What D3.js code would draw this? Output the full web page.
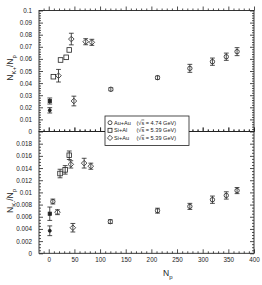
<!DOCTYPE html>
<html><head><meta charset="utf-8">
<script src="https://cdn.jsdelivr.net/npm/d3@7"></script>
<style>
body{margin:0;background:#fff;}
svg{display:block;}
text{font-family:"Liberation Sans",Arial,sans-serif;fill:#222;}
</style></head>
<body><svg id="c" width="262" height="285"></svg>
<script>
// ---- data ----
const xTicks = [0, 50, 100, 150, 200, 250, 300, 350, 400];
const kpTicks = [0, 0.01, 0.02, 0.03, 0.04, 0.05, 0.06, 0.07, 0.08, 0.09, 0.1];
const kmTicks = [0, 0.002, 0.004, 0.006, 0.008, 0.01, 0.012, 0.014, 0.016, 0.018];

// K+ panel
const auauNpKp = [121, 212, 275, 319, 346, 367];
const auauKp = [0.0349, 0.0445, 0.0522, 0.0577, 0.0618, 0.066];
const auauKpErr = [0.0012, 0.0012, 0.0033, 0.003, 0.003, 0.0033];
const sialNpKp = [9, 23, 34, 40];
const sialKp = [0.0453, 0.0591, 0.0613, 0.0674];
const sialKpErr = [0, 0, 0, 0];
const siauNpKp = [19, 44, 49, 72, 84];
const siauKp = [0.0461, 0.0764, 0.0252, 0.0742, 0.0737];
const siauKpErr = [0.0052, 0.0048, 0.004, 0.0025, 0.0025];
const ppNpKp = [2, 2];
const ppKp = [0.0252, 0.0175];
const ppKpErr = [0.0025, 0.0022];
const ppKpShape = ["square", "circle"];

// K- panel
const auauNpKm = [8, 120, 212, 275, 319, 346, 367];
const auauKm = [0.0085, 0.0052, 0.007, 0.0077, 0.0088, 0.0095, 0.0103];
const auauKmErr = [0.0004, 0.0003, 0.0004, 0.0005, 0.0006, 0.0006, 0.0005];
const sialNpKm = [22, 32, 40];
const sialKm = [0.0131, 0.0137, 0.0161];
const sialKmErr = [0.0007, 0.0007, 0.0007];
const siauNpKm = [17, 43, 47, 69, 82];
const siauKm = [0.00675, 0.0146, 0.0042, 0.0148, 0.0143];
const siauKmErr = [0.0004, 0.0006, 0.0007, 0.0008, 0.0005];
const ppNpKm = [2, 2];
const ppKm = [0.0065, 0.0037];
const ppKmErr = [0.0011, 0.0008];
const ppKmShape = ["square", "circle"];

const legendLabels = ["Au+Au", "Si+Al", "Si+Au"];
const legendEnergies = ["4.74", "5.39", "5.39"];
const legendShapes = ["circle", "square", "diamond"];

// ---- layout ----
const L = 39, R = 254, T = 10.5, M = 131.5, B = 253.3;
const ink = "#222";
const svg = d3.select("#c");
const x = d3.scaleLinear().domain([-19, 400]).range([L, R]);
const yT = d3.scaleLinear().domain([0, 0.1]).range([M, T]);
const yB = d3.scaleLinear().domain([0, 0.02]).range([B, M]);

function styleAxis(g){
  g.select(".domain").remove();
  g.selectAll("line").attr("stroke", ink).attr("stroke-width", 0.8);
  g.selectAll("text").attr("font-size", 6.3).attr("fill", ink)
   .attr("font-family", "Liberation Sans, Arial, sans-serif");
}

// frames
[[T, M], [M, B]].forEach(([a, b]) => {
  svg.append("rect").attr("x", L).attr("y", a).attr("width", R - L).attr("height", b - a)
    .attr("fill", "none").attr("stroke", ink).attr("stroke-width", 0.9);
});

// x axes (inward ticks)
const xMinor = d3.range(-10, 401, 10).filter(v => v % 50 !== 0);
function xAxisAt(yPos, dir, labels){
  const ax = dir > 0 ? d3.axisBottom(x) : d3.axisTop(x);
  svg.append("g").attr("transform", `translate(0,${yPos})`)
    .call(ax.tickValues(xTicks).tickSize(-4 * dir).tickFormat(labels ? d3.format("d") : ""))
    .call(styleAxis)
    .call(g => g.selectAll("text").attr("dy", labels ? "0.6em" : 0).attr("y", 5));
  svg.append("g").attr("transform", `translate(0,${yPos})`)
    .call((dir > 0 ? d3.axisBottom(x) : d3.axisTop(x)).tickValues(xMinor).tickSize(-2 * dir).tickFormat(""))
    .call(styleAxis);
}
xAxisAt(T, -1, false);
xAxisAt(M, 1, false);
xAxisAt(M, -1, false);
xAxisAt(B, 1, true);

// y axes
function yAxes(scale, ticks, minorStep, fmt, lo, hi){
  const minor = d3.range(lo, hi + minorStep / 2, minorStep).filter(v => !ticks.some(t => Math.abs(t - v) < minorStep / 10));
  svg.append("g").attr("transform", `translate(${L},0)`)
    .call(d3.axisLeft(scale).tickValues(ticks).tickSize(-4).tickPadding(7).tickFormat(fmt)).call(styleAxis);
  svg.append("g").attr("transform", `translate(${L},0)`)
    .call(d3.axisLeft(scale).tickValues(minor).tickSize(-2).tickFormat("")).call(styleAxis);
  svg.append("g").attr("transform", `translate(${R},0)`)
    .call(d3.axisRight(scale).tickValues(ticks).tickSize(-4).tickFormat("")).call(styleAxis);
  svg.append("g").attr("transform", `translate(${R},0)`)
    .call(d3.axisRight(scale).tickValues(minor).tickSize(-2).tickFormat("")).call(styleAxis);
}
yAxes(yT, kpTicks, 0.002, d => d === 0 ? "0" : d3.format("")(+d.toFixed(3)), 0, 0.1);
yAxes(yB, kmTicks, 0.0005, d => d === 0 ? "0" : d3.format("")(+d.toFixed(4)), 0, 0.0195);

// markers
let sizes = {circle: 2.2, square: 2.3, diamond: 2.8};
function marker(g, shape, cx, cy, filled){
  const f = filled ? ink : "#fff";
  const k = filled ? 0.7 : 1;
  let el;
  if (shape === "circle") el = g.append("circle").attr("cx", cx).attr("cy", cy).attr("r", sizes.circle * k);
  else if (shape === "square") el = g.append("rect").attr("x", cx - sizes.square * k).attr("y", cy - sizes.square * k)
      .attr("width", 2 * sizes.square * k).attr("height", 2 * sizes.square * k);
  else { const s = sizes.diamond * k;
    el = g.append("path").attr("d", `M${cx},${cy - s}L${cx + s},${cy}L${cx},${cy + s}L${cx - s},${cy}Z`); }
  el.attr("fill", f).attr("stroke", ink).attr("stroke-width", 0.8);
}
function series(ys, nps, vals, errs, shapes, filled){
  const g = svg.append("g");
  nps.forEach((n, i) => {
    const cx = x(n), cy = ys(vals[i]);
    const e = errs[i];
    if (e > 0) {
      const y1 = ys(vals[i] + e), y2 = ys(vals[i] - e);
      g.append("line").attr("x1", cx).attr("x2", cx).attr("y1", y1).attr("y2", y2).attr("stroke", ink).attr("stroke-width", 0.8);
      [y1, y2].forEach(yy => g.append("line").attr("x1", cx - 2.4).attr("x2", cx + 2.4).attr("y1", yy).attr("y2", yy)
        .attr("stroke", ink).attr("stroke-width", 0.8));
    }
    const sh = Array.isArray(shapes) ? shapes[i] : shapes;
    const mg = g.append("g");
    marker(mg, sh, cx, cy, filled);
    if (!filled && e > 0) mg.append("line").attr("x1", cx).attr("x2", cx).attr("y1", cy - 2.3).attr("y2", cy + 2.3)
      .attr("stroke", ink).attr("stroke-width", 0.8);
  });
}
series(yT, auauNpKp, auauKp, auauKpErr, "circle", false);
series(yT, sialNpKp, sialKp, sialKpErr, "square", false);
series(yT, siauNpKp, siauKp, siauKpErr, "diamond", false);
series(yT, ppNpKp, ppKp, ppKpErr, ppKpShape, true);
series(yB, auauNpKm, auauKm, auauKmErr, "circle", false);
series(yB, sialNpKm, sialKm, sialKmErr, "square", false);
series(yB, siauNpKm, siauKm, siauKmErr, "diamond", false);
series(yB, ppNpKm, ppKm, ppKmErr, ppKmShape, true);

// legend
const lg = svg.append("g");
lg.append("rect").attr("x", 105).attr("y", 116).attr("width", 84).attr("height", 29.5)
  .attr("fill", "#fff").attr("stroke", ink).attr("stroke-width", 0.8);
sizes = {circle: 2, square: 2, diamond: 2.6};
legendLabels.forEach((lab, i) => {
  const yy = 122.7 + i * 7.6;
  const mg = lg.append("g");
  marker(mg, legendShapes[i], 110, yy, false);
  lg.append("text").attr("x", 114).attr("y", yy + 2).attr("font-size", 5.6).text(lab);
  const t = lg.append("text").attr("x", 136.5).attr("y", yy + 2).attr("font-size", 5.6);
  t.append("tspan").text("(√");
  t.append("tspan").attr("text-decoration", "overline").text("s");
  t.append("tspan").text(" = " + legendEnergies[i] + " GeV)");
});

// axis titles
function yTitle(cy, sub){
  const t = svg.append("text").attr("transform", `translate(13,${cy}) rotate(-90)`)
    .attr("text-anchor", "middle").attr("font-size", 8.5);
  t.append("tspan").text("N");
  t.append("tspan").attr("font-size", 6).attr("dy", 2.5).text(sub);
  t.append("tspan").attr("dy", -2.5).text("/N");
  t.append("tspan").attr("font-size", 6).attr("dy", 2.5).text("p");
}
yTitle(68, "K+");
yTitle(201, "K-");
const xt = svg.append("text").attr("x", 163).attr("y", 276).attr("font-size", 8.5);
xt.append("tspan").text("N");
xt.append("tspan").attr("font-size", 6).attr("dy", 2.5).text("p");
</script></body></html>
